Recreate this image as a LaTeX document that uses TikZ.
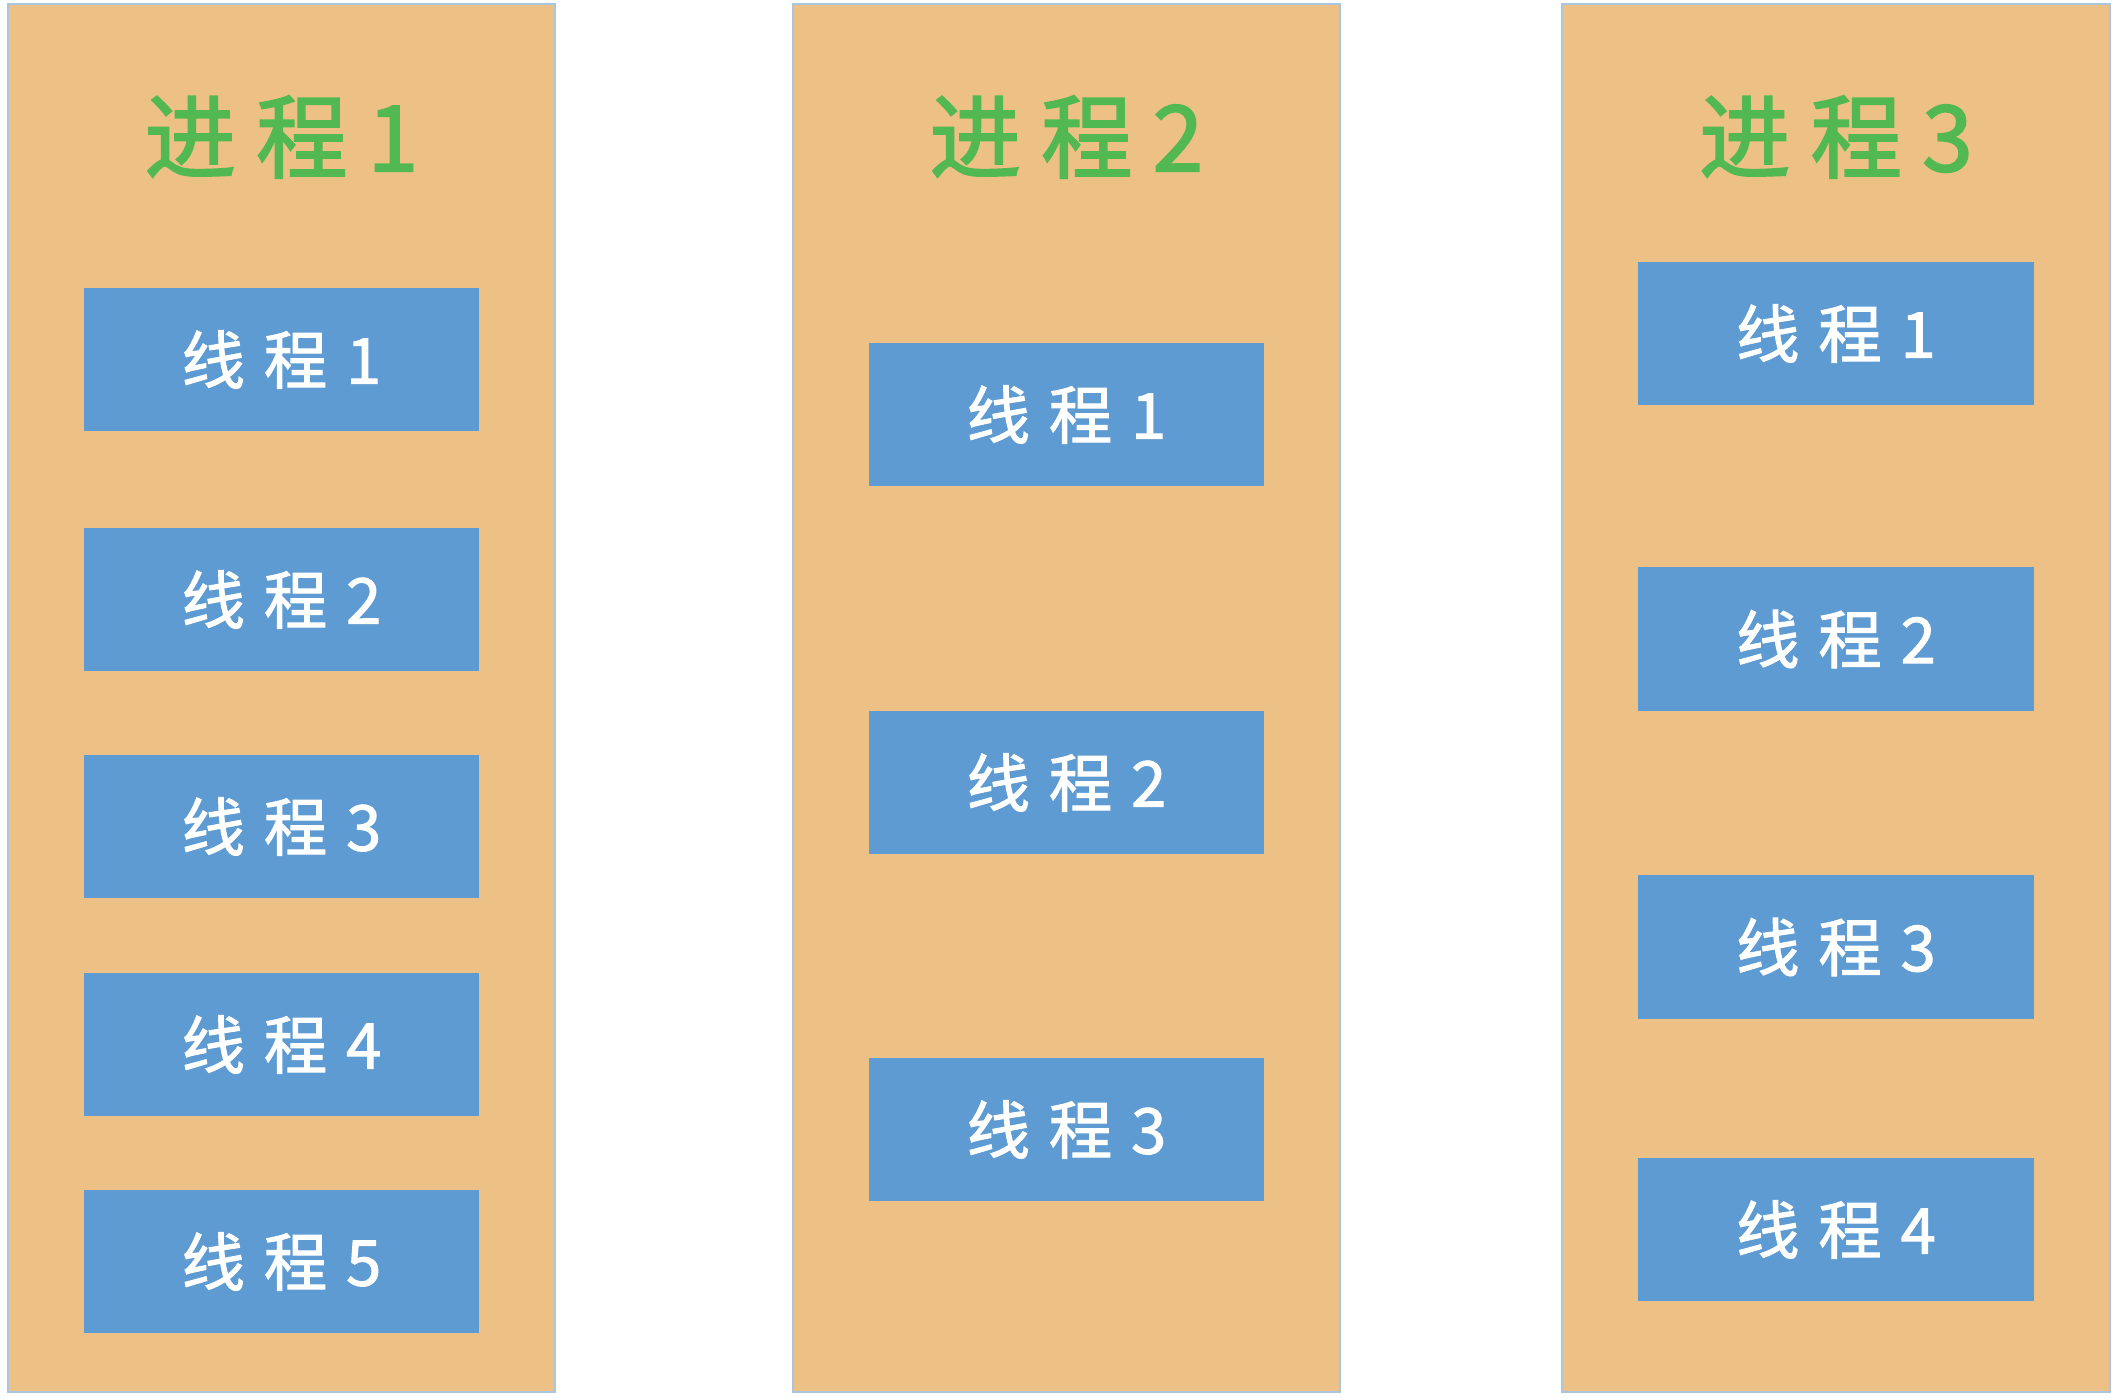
\documentclass[tikz,border=0pt]{standalone}
\usepackage{fontspec}
\newfontfamily\cjk{Noto Sans CJK SC}[LetterSpace=30,FakeBold=1.6]
\newfontfamily\cjkt{Noto Sans CJK SC}[LetterSpace=22,FakeBold=2]
\definecolor{procfill}{HTML}{EDC186}
\definecolor{thrfill}{HTML}{5E9BD3}
\definecolor{ttlgreen}{HTML}{52B852}
\definecolor{procedge}{HTML}{A9C6DE}
\tikzset{
  procbox/.style={draw=procedge, line width=0.6pt, fill=procfill, rectangle, minimum width=5.47cm, minimum height=13.88cm, inner sep=0pt},
  thrbox/.style={fill=thrfill, rectangle, minimum width=3.95cm, minimum height=1.43cm, inner sep=0pt, text=white, font=\cjk\fontsize{18}{21}\selectfont},
  ttl/.style={text=ttlgreen, inner sep=0pt, font=\cjkt\fontsize{26}{31}\selectfont}
}
\begin{document}
\begin{tikzpicture}[x=0.01cm,y=-0.01cm]
\useasboundingbox (0,0) rectangle (2118,1400);
\fill[white] (0,0) rectangle (2118,1400);
% process columns
\node[procbox] (p1) at (281.5,698) {};
\node[procbox] (p2) at (1066.5,698) {};
\node[procbox] (p3) at (1836,698) {};
% titles
\node[ttl] (t1) at (281.5,137) {进程1};
\node[ttl] (t2) at (1066.5,137) {进程2};
\node[ttl] (t3) at (1836,137) {进程3};
% process 1 threads
\node[thrbox] (a1) at (281.5,359.5) {线程1};
\node[thrbox] (a2) at (281.5,599.5) {线程2};
\node[thrbox] (a3) at (281.5,826.5) {线程3};
\node[thrbox] (a4) at (281.5,1044.5) {线程4};
\node[thrbox] (a5) at (281.5,1261.5) {线程5};
% process 2 threads
\node[thrbox] (b1) at (1066.5,414.5) {线程1};
\node[thrbox] (b2) at (1066.5,782.5) {线程2};
\node[thrbox] (b3) at (1066.5,1129.5) {线程3};
% process 3 threads
\node[thrbox] (c1) at (1836,333.5) {线程1};
\node[thrbox] (c2) at (1836,639) {线程2};
\node[thrbox] (c3) at (1836,947) {线程3};
\node[thrbox] (c4) at (1836,1229.5) {线程4};
\end{tikzpicture}
\end{document}
